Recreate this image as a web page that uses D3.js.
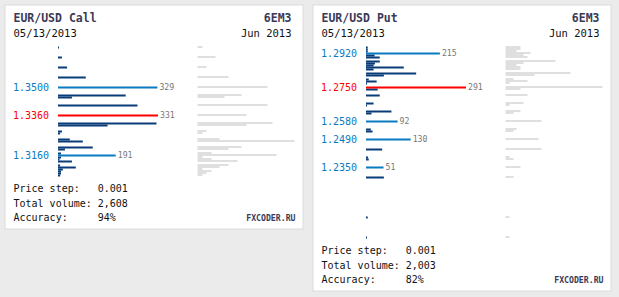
<!DOCTYPE html>
<html>
<head>
<meta charset="utf-8">
<script src="https://cdn.jsdelivr.net/npm/d3@7"></script>
<style>
  body { margin: 0; background: #ebebeb; }
  svg { display: block; font-family: "DejaVu Sans Mono", monospace; }
</style>
</head>
<body>
<svg id="chart" width="619" height="297"></svg>
<script>
// ---- EUR/USD Call ----
const callPrices = [1.3700, 1.3650, 1.3600, 1.3550, 1.3500, 1.3460, 1.3450, 1.3410, 1.3360, 1.3320,
                    1.3310, 1.3280, 1.3270, 1.3240, 1.3230, 1.3200, 1.3190, 1.3170, 1.3160, 1.3150,
                    1.3140, 1.3130, 1.3110, 1.3100, 1.3090, 1.3080, 1.3070, 1.3060];
const callVolume = [3, 13, 30, 92, 329, 224, 46, 263, 331, 326,
                    164, 13, 7, 39, 82, 115, 23, 10, 191, 10,
                    5, 46, 7, 59, 16, 10, 10, 7];
const callPrev   = [5, 18, 9, 31, 70, 44, 27, 70, 49, 75,
                    49, 9, 5, 22, 97, 44, 31, 14, 79, 5,
                    14, 40, 31, 22, 5, 14, 9, 5];
const callMarks = [1.3500, 1.3360, 1.3160];
const callTop = 1.3360;

// ---- EUR/USD Put ----
const putPrices = [1.2950, 1.2940, 1.2930, 1.2920, 1.2910, 1.2900, 1.2880, 1.2870, 1.2860, 1.2850,
                   1.2840, 1.2820, 1.2810, 1.2790, 1.2780, 1.2770, 1.2750, 1.2740, 1.2710, 1.2670,
                   1.2660, 1.2630, 1.2620, 1.2580, 1.2540, 1.2530, 1.2490, 1.2440, 1.2400, 1.2390,
                   1.2350, 1.2300, 1.2100, 1.2000];
const putVolume = [5, 5, 5, 215, 25, 40, 40, 26, 22, 110,
                   22, 146, 52, 8, 31, 3, 291, 34, 40, 22,
                   3, 74, 16, 92, 14, 19, 130, 47, 6, 8,
                   51, 52, 5, 3];
const putPrev   = [15, 15, 11, 25, 18, 22, 50, 18, 11, 15,
                   15, 65, 29, 8, 22, 4, 97, 15, 22, 18,
                   4, 15, 8, 36, 11, 8, 33, 36, 4, 8,
                   15, 8, 4, 4];
const putMarks = [1.2920, 1.2750, 1.2580, 1.2490, 1.2350];
const putTop = 1.2750;

const footLabels = ['Price step:', 'Total volume:', 'Accuracy:'];

const svg = d3.select('#chart');

function drawPanel(px, py, o) {
  const g = svg.append('g').attr('transform', `translate(${px},${py})`);
  const step = 0.001;
  const rowH = 2;
  const hi = d3.max(o.prices), lo = d3.min(o.prices);
  const n = Math.round((hi - lo) / step);

  // price rows
  const y = d3.scaleLinear().domain([hi, lo]).range([42, 42 + n * rowH]);
  const x = d3.scaleLinear().domain([0, d3.max(o.volume)]).range([0, 100]);
  const gx = d3.scaleLinear().domain([0, d3.max(o.prev)]).range([0, 97]);

  const yEnd = 42 + n * rowH + rowH;
  const footY = yEnd + 15.5;
  const h = footY + 29 + 7.5;

  g.append('rect')
    .attr('x', 0.5).attr('y', 0.5)
    .attr('width', 298).attr('height', h)
    .attr('fill', '#fff').attr('stroke', '#dcdcdc');

  // header
  g.append('text').attr('x', 9).attr('y', 17.7)
    .attr('font-size', 11.5).attr('font-weight', 'bold').attr('fill', '#3a3a58')
    .text(o.title);
  g.append('text').attr('x', 287).attr('y', 17.7).attr('text-anchor', 'end')
    .attr('font-size', 11.5).attr('font-weight', 'bold').attr('fill', '#3a3a58')
    .text(o.code);
  g.append('text').attr('x', 9).attr('y', 32)
    .attr('font-size', 10.5).attr('fill', '#111')
    .text(o.date);
  g.append('text').attr('x', 287).attr('y', 32).attr('text-anchor', 'end')
    .attr('font-size', 10.5).attr('fill', '#111')
    .text(o.month);

  const rows = o.prices.map((p, i) => ({ p, v: o.volume[i], q: o.prev[i] }));
  const isMark = d => o.marks.some(m => Math.abs(m - d.p) < 1e-9);
  const markColor = p => Math.abs(p - o.top) < 1e-9 ? '#ff0000' : '#0b7bc1';

  // grey lines
  g.append('g').selectAll('rect').data(rows).join('rect')
    .attr('x', 193).attr('y', d => y(d.p))
    .attr('width', d => gx(d.q)).attr('height', 1)
    .attr('fill', '#c0c0c0');

  // volume bars
  g.append('g').selectAll('rect').data(rows.filter(d => !isMark(d))).join('rect')
    .attr('x', 53.5).attr('y', d => y(d.p))
    .attr('width', d => Math.max(1, x(d.v))).attr('height', rowH)
    .attr('fill', '#0a3c78');

  const marked = rows.filter(isMark);
  g.append('g').selectAll('rect').data(marked).join('rect')
    .attr('x', 53.5).attr('y', d => y(d.p))
    .attr('width', d => x(d.v)).attr('height', rowH)
    .attr('fill', d => markColor(d.p));

  g.append('g').selectAll('text').data(marked).join('text')
    .attr('x', d => 53.5 + x(d.v) + 2).attr('y', d => y(d.p) + 1)
    .attr('dy', '0.36em')
    .attr('font-size', 8.2).attr('fill', '#777')
    .text(d => d.v);

  // price labels
  const axis = g.append('g')
    .attr('transform', `translate(44.5,1)`)
    .call(d3.axisLeft(y).tickValues(o.marks).tickSize(0).tickPadding(0)
      .tickFormat(d3.format('.4f')));
  axis.select('.domain').remove();
  axis.selectAll('text')
    .attr('font-family', '"DejaVu Sans Mono", monospace')
    .attr('font-size', 10)
    .attr('fill', d => markColor(d));

  // footer
  const vals = [o.stepText, o.total, o.accuracy];
  footLabels.forEach((t, i) => {
    g.append('text').attr('x', 9).attr('y', footY + i * 14.5)
      .attr('font-size', 10).attr('fill', '#111').text(t);
    g.append('text').attr('x', 9 + 14 * 6.02).attr('y', footY + i * 14.5)
      .attr('font-size', 10).attr('fill', '#111').text(vals[i]);
  });
  g.append('text').attr('x', 291).attr('y', footY + 29).attr('text-anchor', 'end')
    .attr('font-size', 8.2).attr('font-weight', 'bold').attr('fill', '#3a3a58')
    .text('FXCODER.RU');
}

drawPanel(4.5, 4.5, {
  title: 'EUR/USD Call', code: '6EM3', date: '05/13/2013', month: 'Jun 2013',
  prices: callPrices, volume: callVolume, prev: callPrev,
  marks: callMarks, top: callTop,
  stepText: '0.001', total: '2,608', accuracy: '94%'
});

drawPanel(312.5, 4.5, {
  title: 'EUR/USD Put', code: '6EM3', date: '05/13/2013', month: 'Jun 2013',
  prices: putPrices, volume: putVolume, prev: putPrev,
  marks: putMarks, top: putTop,
  stepText: '0.001', total: '2,003', accuracy: '82%'
});
</script>
</body>
</html>
